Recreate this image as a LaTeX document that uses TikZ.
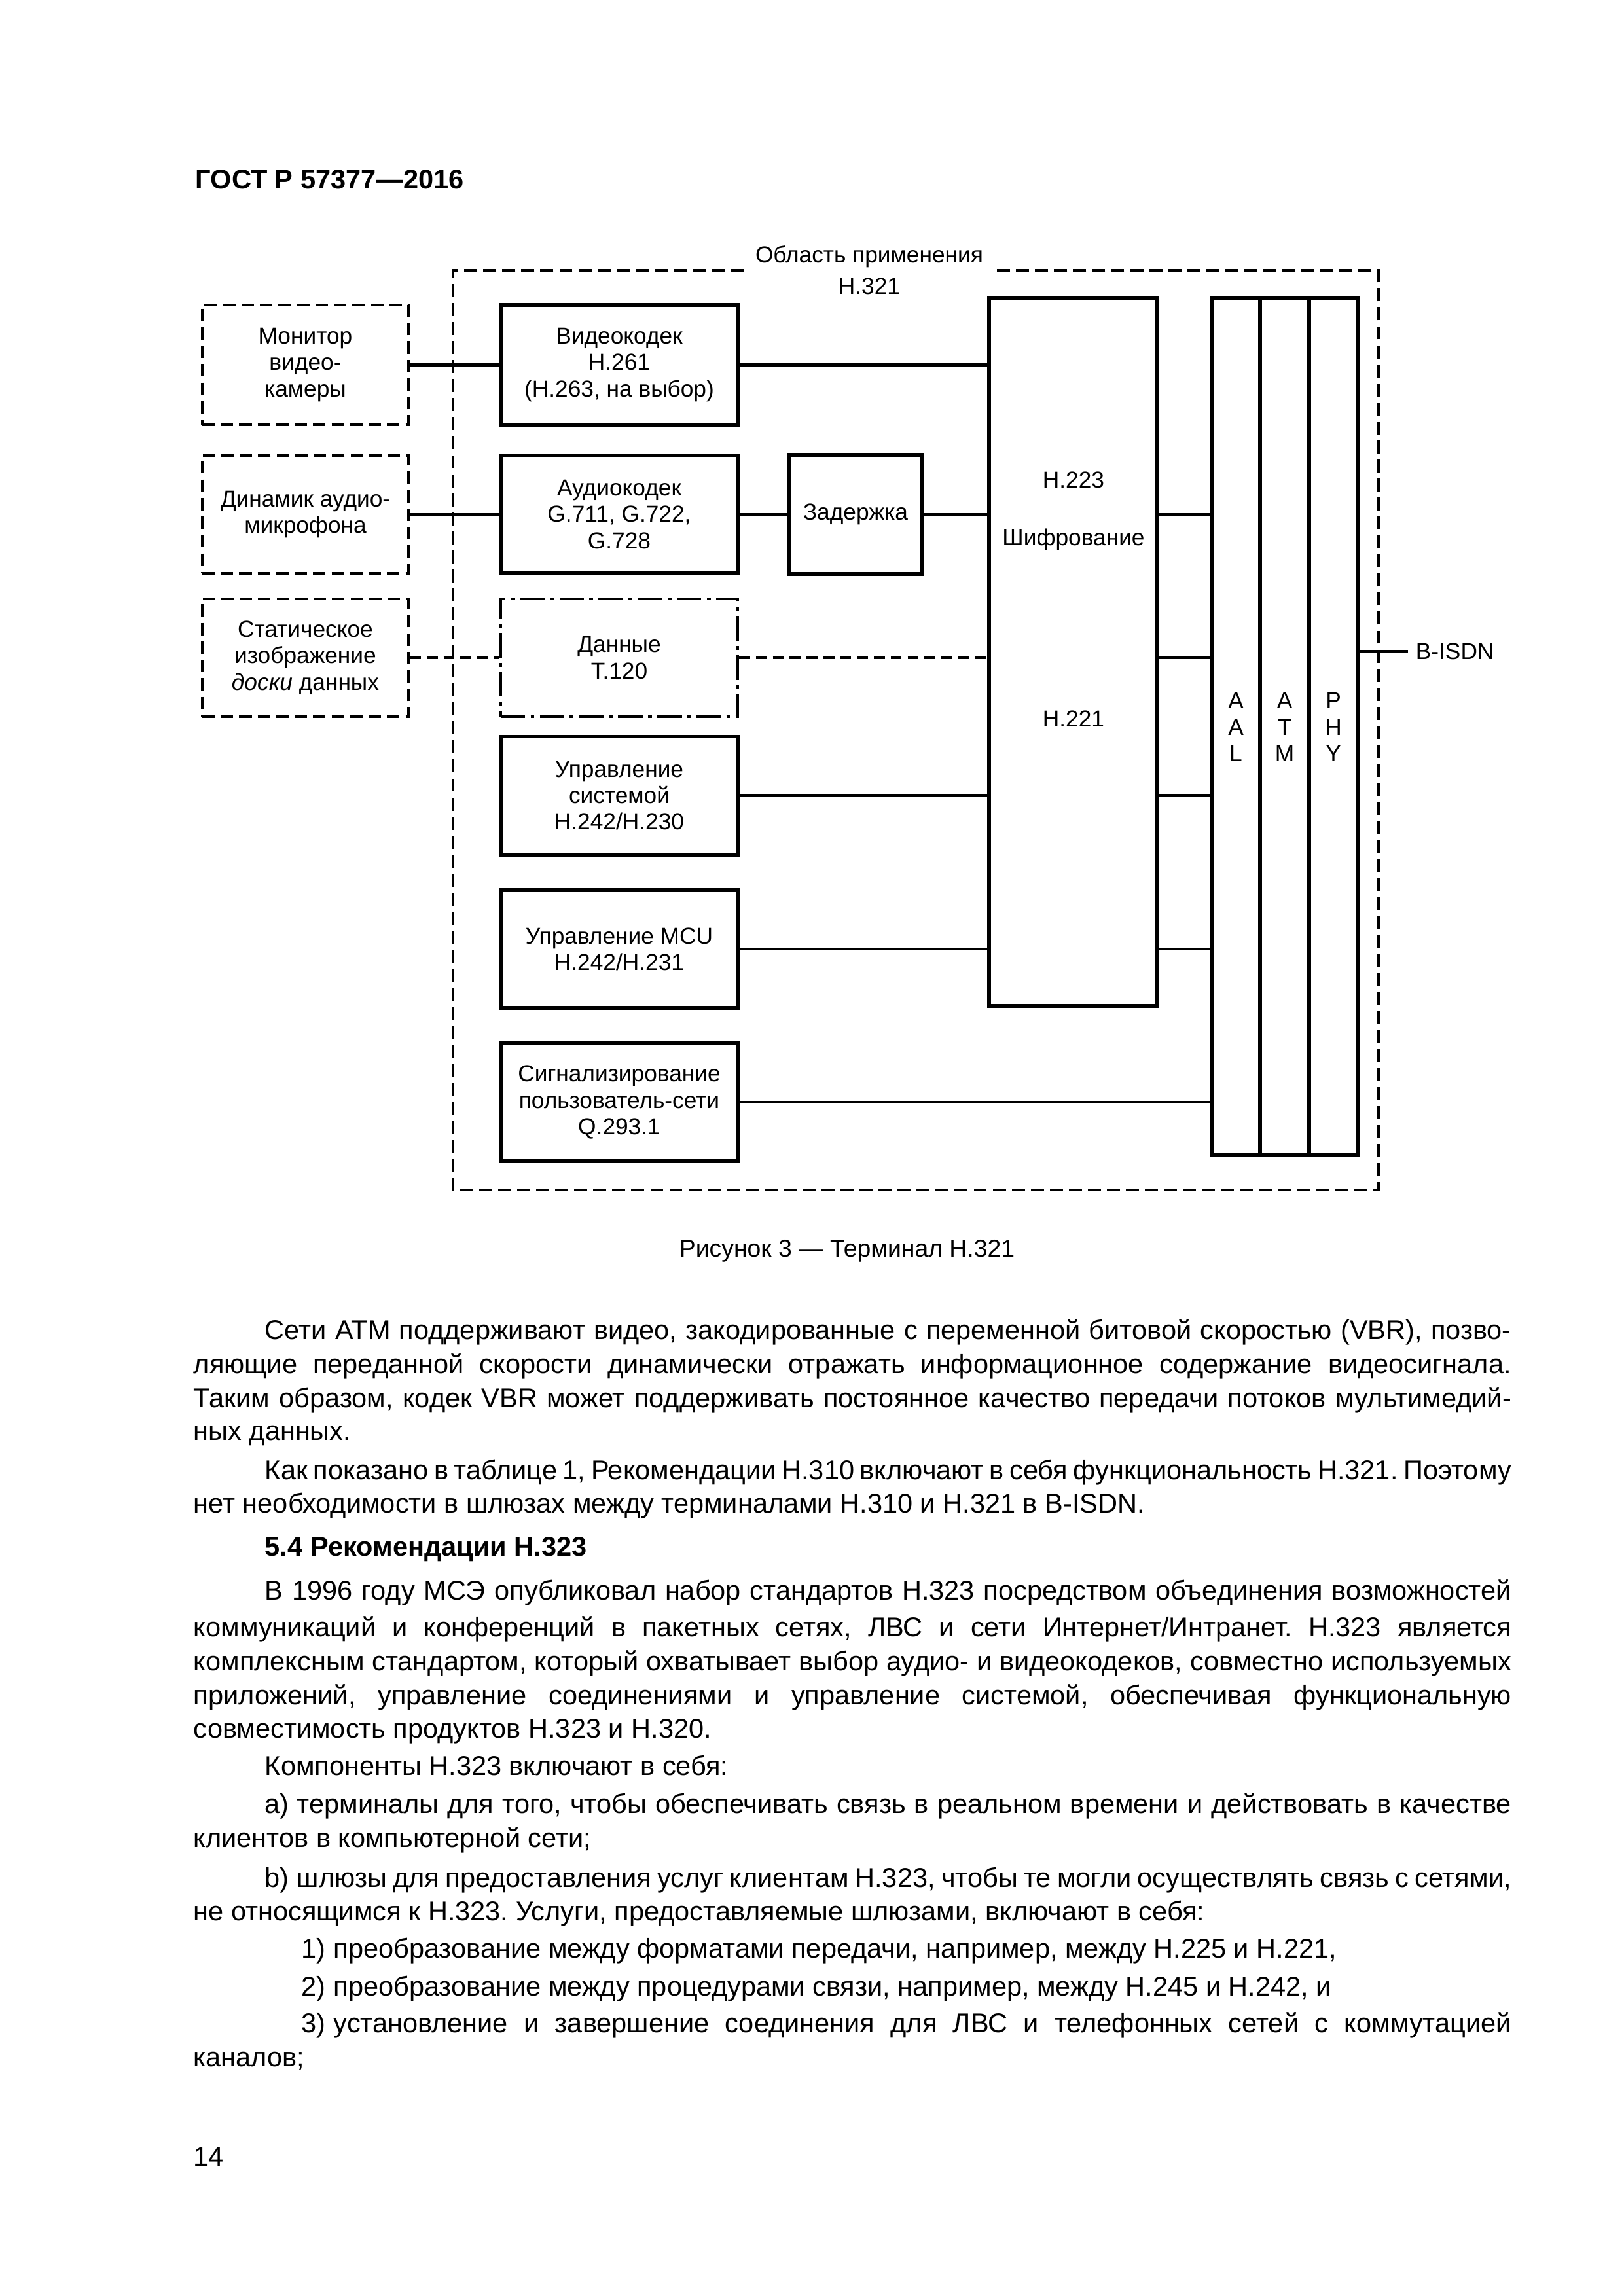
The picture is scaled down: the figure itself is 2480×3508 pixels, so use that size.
\documentclass[tikz,border=0pt]{standalone}
\usepackage{fontspec}
\setmainfont{Liberation Sans}
\frenchspacing
\newdimen\pxu \pxu=0.24088pt
\tikzset{
  diag/.style={font=\fontsize{8.5}{9.7}\selectfont, align=center},
  sbox/.style={draw, line width=1.4pt, inner sep=0pt, diag},
  dbox/.style={draw, line width=1.05pt, dash pattern=on 4.6pt off 2.2pt, inner sep=0pt, diag},
  ddbox/.style={draw, line width=1.05pt, dash pattern=on 9pt off 2pt on 1.4pt off 2pt, inner sep=0pt, diag},
  lw/.style={minimum width=75.88pt},
  iw/.style={minimum width=87.20pt},
  hh/.style={minimum height=43.4pt},
  conn/.style={line width=1.15pt},
  dconn/.style={line width=1.15pt, dash pattern=on 4pt off 2.2pt},
  outerline/.style={line width=1.1pt, dash pattern=on 4.8pt off 2.2pt},
  body/.style={font=\fontsize{10}{12}\selectfont, inner sep=0pt, anchor=base west},
}
\newcommand\jline[3]{\node[body] (#1) at (295,#2) {\hbox to 2013\pxu{\spaceskip=0.22em plus 3em minus 0.12em\relax #3}};}
\newcommand\pline[3]{\node[body] (#1) at (295,#2) {#3};}
\begin{document}
\begin{tikzpicture}[x=0.24088pt, y=-0.24088pt]
\fill[white] (0,0) rectangle (2480,3508);
\useasboundingbox (0,0) rectangle (2480,3508);

% header
\node[font=\fontsize{10}{12}\selectfont\bfseries, inner sep=0pt, anchor=base west] (hdr) at (298,289) {ГОСТ Р 57377—2016};

% outer scope
\node[diag, font=\fontsize{8.5}{11.6}\selectfont] (area) at (1328,413) {Область применения\\H.321};
\draw[outerline] (1136,413) -| (692,1818) -| (2106,413) -- (1521,413);

% external boxes
\node[dbox, lw, minimum height=44.08pt] (mon) at (466.5,557.5) {Монитор\\видео-\\камеры};
\node[dbox, lw, hh] (dyn) at (466.5,786) {Динамик аудио-\\микрофона};
\node[dbox, lw, hh] (stat) at (466.5,1005) {Статическое\\изображение\\\textit{доски} данных};

% inner boxes
\node[sbox, iw, minimum height=44.08pt] (video) at (946,557.5) {Видеокодек\\H.261\\(H.263, на выбор)};
\node[sbox, iw, hh] (audio) at (946,786) {Аудиокодек\\G.711, G.722,\\G.728};
\node[ddbox, iw, hh] (data) at (946,1005) {Данные\\T.120};
\node[sbox, iw, hh] (sys) at (946,1215.5) {Управление\\системой\\H.242/H.230};
\node[sbox, iw, hh] (mcu) at (946,1450) {Управление MCU\\H.242/H.231};
\node[sbox, iw, hh] (sig) at (946,1684) {Сигнализирование\\пользователь-сети\\Q.293.1};
\node[sbox, minimum width=49.14pt, minimum height=43.84pt] (delay) at (1307,786) {Задержка};

% H.223 block
\node[sbox, minimum width=61.91pt, minimum height=260.39pt] (h223) at (1639.5,996.5) {};
\node[diag] (h223t) at (1640,733) {H.223};
\node[diag] (shifr) at (1640,824) {Шифрование};
\node[diag] (h221t) at (1640,1098) {H.221};

% AAL / ATM / PHY
\node[sbox, minimum width=17.83pt, minimum height=315.07pt] (aal) at (1888,1110) {};
\node[sbox, minimum width=18.07pt, minimum height=315.07pt] (atm) at (1962.5,1110) {};
\node[sbox, minimum width=17.83pt, minimum height=315.07pt] (phy) at (2037,1110) {};
\node[diag] (aalt) at (1888,1111) {A\\A\\L};
\node[diag] (atmt) at (1962.5,1111) {A\\T\\M};
\node[diag] (phyt) at (2037,1111) {P\\H\\Y};
\node[diag, anchor=west, inner xsep=2.65pt, inner ysep=0pt] (bisdn) at (2151,995) {B-ISDN};

% connectors
\draw[conn] (mon) -- (video);
\draw[conn] (video) -- (video -| h223.west);
\draw[conn] (dyn) -- (audio);
\draw[conn] (audio) -- (delay);
\draw[conn] (delay) -- (delay -| h223.west);
\draw[dconn] (stat) -- (data);
\draw[dconn] (data) -- (data -| h223.west);
\draw[conn] (sys) -- (sys -| h223.west);
\draw[conn] (mcu) -- (mcu -| h223.west);
\draw[conn] (sig) -- (sig -| aal.west);
\draw[conn] (h223.east |- delay) -- (delay -| aal.west);
\draw[conn] (h223.east |- data) -- (data -| aal.west);
\draw[conn] (h223.east |- sys) -- (sys -| aal.west);
\draw[conn] (h223.east |- mcu) -- (mcu -| aal.west);
\draw[conn] (bisdn.west -| phy.east) -- (bisdn.west);

% caption
\node[font=\fontsize{9}{11}\selectfont, inner sep=0pt, anchor=base] (cap) at (1294,1920) {Рисунок 3 — Терминал H.321};

% body text
\jline{t1}{2046}{\hskip109\pxu Сети ATM поддерживают видео, закодированные с переменной битовой скоростью (VBR), позво-}
\jline{t2}{2098}{ляющие переданной скорости динамически отражать информационное содержание видеосигнала.}
\jline{t3}{2150}{Таким образом, кодек VBR может поддерживать постоянное качество передачи потоков мультимедий-}
\pline{t4}{2200}{ных данных.}
\jline{t5}{2260}{\hskip109\pxu Как показано в таблице 1, Рекомендации H.310 включают в себя функциональность H.321. Поэтому}
\pline{t6}{2311}{нет необходимости в шлюзах между терминалами H.310 и H.321 в B-ISDN.}
\node[body, font=\fontsize{10}{12}\selectfont\bfseries] (t7) at (295,2377) {\hskip109\pxu 5.4\hskip 12\pxu Рекомендации H.323};
\jline{t8}{2444}{\hskip109\pxu В 1996 году МСЭ опубликовал набор стандартов H.323 посредством объединения возможностей}
\jline{t9}{2500}{коммуникаций и конференций в пакетных сетях, ЛВС и сети Интернет/Интранет. H.323 является}
\jline{t10}{2552}{комплексным стандартом, который охватывает выбор аудио- и видеокодеков, совместно используемых}
\jline{t11}{2604}{приложений, управление соединениями и управление системой, обеспечивая функциональную}
\pline{t12}{2655}{совместимость продуктов H.323 и H.320.}
\pline{t13}{2712}{\hskip109\pxu Компоненты H.323 включают в себя:}
\jline{t14}{2770}{\hskip109\pxu а)\hskip 12\pxu терминалы для того, чтобы обеспечивать связь в реальном времени и действовать в качестве}
\pline{t15}{2822}{клиентов в компьютерной сети;}
\jline{t16}{2883}{\hskip109\pxu b)\hskip 12\pxu шлюзы для предоставления услуг клиентам H.323, чтобы те могли осуществлять связь с сетями,}
\pline{t17}{2934}{не относящимся к H.323. Услуги, предоставляемые шлюзами, включают в себя:}
\pline{t18}{2991}{\hskip165\pxu 1)\hskip 12\pxu преобразование между форматами передачи, например, между H.225 и H.221,}
\pline{t19}{3049}{\hskip165\pxu 2)\hskip 12\pxu преобразование между процедурами связи, например, между H.245 и H.242, и}
\jline{t20}{3105}{\hskip165\pxu 3)\hskip 12\pxu установление и завершение соединения для ЛВС и телефонных сетей с коммутацией}
\pline{t21}{3157}{каналов;}
\node[body] (pnum) at (295,3309) {14};
\end{tikzpicture}
\end{document}
